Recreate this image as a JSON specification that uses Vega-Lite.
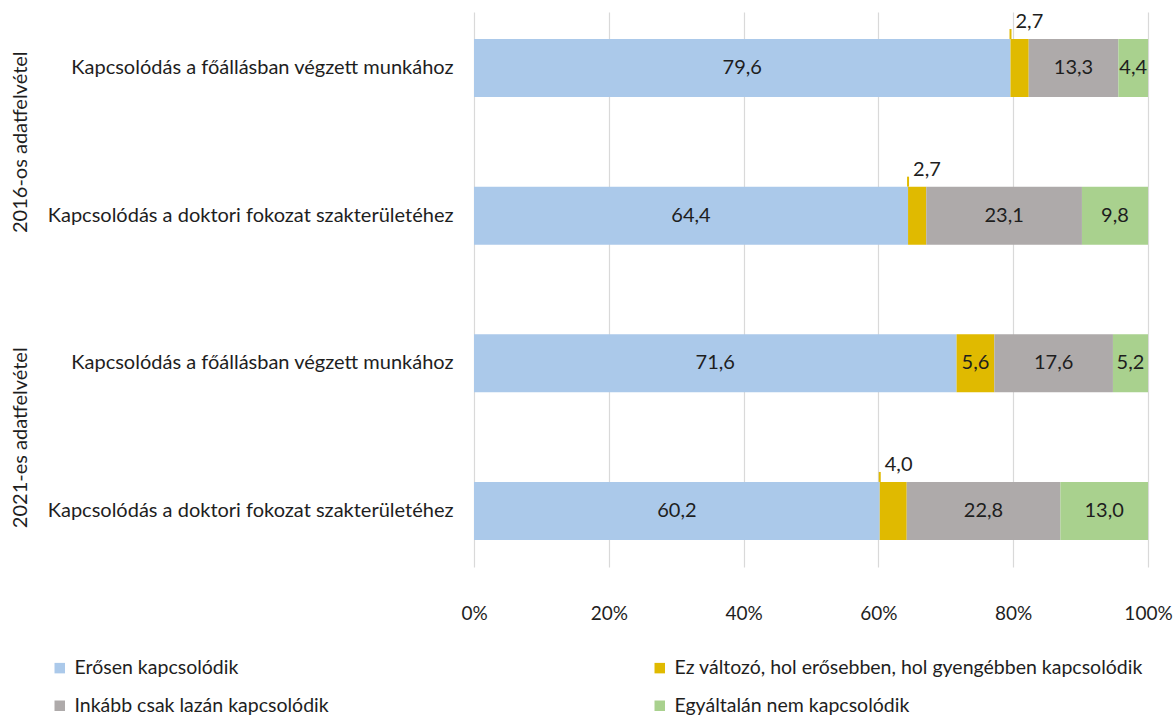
{
  "$schema": "https://vega.github.io/schema/vega-lite/v6.json",
  "autosize": {"type": "none"},
  "padding": {"left": 474, "top": 12, "right": 25, "bottom": 152},
  "width": 674,
  "height": 555,
  "config": {
    "font": "Lato",
    "view": {"stroke": null},
    "locale": {"number": {"decimal": ",", "thousands": " ", "grouping": [3], "currency": ["", ""]}},
    "text": {"font": "Lato", "fontSize": 20, "color": "#1e1e1e"}
  },
  "data": {
    "values": [
      {"group": "2016-os adatfelvétel", "row": "r1", "label": "Kapcsolódás a főállásban végzett munkához", "cat": "Erősen kapcsolódik", "ord": 1, "value": 79.6},
      {"group": "2016-os adatfelvétel", "row": "r1", "label": "Kapcsolódás a főállásban végzett munkához", "cat": "Ez változó, hol erősebben, hol gyengébben kapcsolódik", "ord": 2, "value": 2.7},
      {"group": "2016-os adatfelvétel", "row": "r1", "label": "Kapcsolódás a főállásban végzett munkához", "cat": "Inkább csak lazán kapcsolódik", "ord": 3, "value": 13.3},
      {"group": "2016-os adatfelvétel", "row": "r1", "label": "Kapcsolódás a főállásban végzett munkához", "cat": "Egyáltalán nem kapcsolódik", "ord": 4, "value": 4.4},
      {"group": "2016-os adatfelvétel", "row": "r2", "label": "Kapcsolódás a doktori fokozat szakterületéhez", "cat": "Erősen kapcsolódik", "ord": 1, "value": 64.4},
      {"group": "2016-os adatfelvétel", "row": "r2", "label": "Kapcsolódás a doktori fokozat szakterületéhez", "cat": "Ez változó, hol erősebben, hol gyengébben kapcsolódik", "ord": 2, "value": 2.7},
      {"group": "2016-os adatfelvétel", "row": "r2", "label": "Kapcsolódás a doktori fokozat szakterületéhez", "cat": "Inkább csak lazán kapcsolódik", "ord": 3, "value": 23.1},
      {"group": "2016-os adatfelvétel", "row": "r2", "label": "Kapcsolódás a doktori fokozat szakterületéhez", "cat": "Egyáltalán nem kapcsolódik", "ord": 4, "value": 9.8},
      {"group": "2021-es adatfelvétel", "row": "r3", "label": "Kapcsolódás a főállásban végzett munkához", "cat": "Erősen kapcsolódik", "ord": 1, "value": 71.6},
      {"group": "2021-es adatfelvétel", "row": "r3", "label": "Kapcsolódás a főállásban végzett munkához", "cat": "Ez változó, hol erősebben, hol gyengébben kapcsolódik", "ord": 2, "value": 5.6},
      {"group": "2021-es adatfelvétel", "row": "r3", "label": "Kapcsolódás a főállásban végzett munkához", "cat": "Inkább csak lazán kapcsolódik", "ord": 3, "value": 17.6},
      {"group": "2021-es adatfelvétel", "row": "r3", "label": "Kapcsolódás a főállásban végzett munkához", "cat": "Egyáltalán nem kapcsolódik", "ord": 4, "value": 5.2},
      {"group": "2021-es adatfelvétel", "row": "r4", "label": "Kapcsolódás a doktori fokozat szakterületéhez", "cat": "Erősen kapcsolódik", "ord": 1, "value": 60.2},
      {"group": "2021-es adatfelvétel", "row": "r4", "label": "Kapcsolódás a doktori fokozat szakterületéhez", "cat": "Ez változó, hol erősebben, hol gyengébben kapcsolódik", "ord": 2, "value": 4.0},
      {"group": "2021-es adatfelvétel", "row": "r4", "label": "Kapcsolódás a doktori fokozat szakterületéhez", "cat": "Inkább csak lazán kapcsolódik", "ord": 3, "value": 22.8},
      {"group": "2021-es adatfelvétel", "row": "r4", "label": "Kapcsolódás a doktori fokozat szakterületéhez", "cat": "Egyáltalán nem kapcsolódik", "ord": 4, "value": 13.0}
    ]
  },
  "resolve": {"scale": {"y": "independent"}, "axis": {"y": "independent"}},
  "layer": [
    {
      "layer": [
        {
          "mark": {"type": "bar"},
          "encoding": {
            "y": {
              "field": "row", "type": "nominal", "sort": ["r1", "r2", "r3", "r4"],
              "scale": {"paddingInner": 0.607, "paddingOuter": 0.183},
              "axis": {
                "title": null, "domain": false, "ticks": false, "labelPadding": 21, "orient": "left",
                "labelFontSize": 20, "labelColor": "#1e1e1e", "labelFont": "Lato", "labelLimit": 0,
                "labelExpr": "datum.value == 'r1' || datum.value == 'r3' ? 'Kapcsolódás a főállásban végzett munkához' : 'Kapcsolódás a doktori fokozat szakterületéhez'"
              }
            },
            "x": {
              "field": "value", "type": "quantitative", "stack": "zero",
              "scale": {"domain": [0, 100], "nice": false},
              "axis": {
                "title": null, "values": [0, 20, 40, 60, 80, 100], "labelExpr": "datum.value + '%'",
                "domain": false, "ticks": false, "grid": true, "gridColor": "#d9d9d9", "gridWidth": 1.2,
                "labelFlush": false,
                "labelFontSize": 19, "labelColor": "#1e1e1e", "labelFont": "Lato", "offset": 18, "labelPadding": 19
              }
            },
            "order": {"field": "ord", "type": "quantitative"},
            "color": {
              "field": "cat", "type": "nominal",
              "scale": {
                "domain": ["Erősen kapcsolódik", "Ez változó, hol erősebben, hol gyengébben kapcsolódik", "Inkább csak lazán kapcsolódik", "Egyáltalán nem kapcsolódik"],
                "range": ["#abc9ea", "#e0ba00", "#aeaaaa", "#a9d18e"]
              },
              "legend": {
                "title": null, "orient": "none", "legendX": -424, "legendY": 646, "columns": 2,
                "direction": "horizontal", "columnPadding": 321, "rowPadding": 17,
                "symbolType": "square", "symbolSize": 110, "symbolStrokeWidth": 0, "symbolOpacity": 1,
                "labelFontSize": 19.5, "labelFont": "Lato", "labelColor": "#1e1e1e", "labelLimit": 0, "labelOffset": 5
              }
            }
          }
        },
        {
          "mark": {"type": "text", "align": "center", "baseline": "middle"},
          "encoding": {
            "y": {"field": "row", "type": "nominal", "sort": ["r1", "r2", "r3", "r4"]},
            "x": {"field": "value", "type": "quantitative", "stack": "zero", "bandPosition": 0.5},
            "order": {"field": "ord", "type": "quantitative"},
            "text": {
              "condition": {"test": "datum.ord == 2 && datum.value < 5", "value": ""},
              "field": "value", "type": "quantitative", "format": ".1f"
            }
          }
        },
        {
          "transform": [
            {"stack": "value", "groupby": ["row"], "sort": [{"field": "ord", "order": "ascending"}], "as": ["s0", "s1"]},
            {"filter": "datum.ord == 2 && datum.value < 5"}
          ],
          "layer": [
            {
              "mark": {"type": "text", "align": "left", "baseline": "middle", "dx": 5, "dy": -17},
              "encoding": {
                "y": {"field": "row", "type": "nominal", "sort": ["r1", "r2", "r3", "r4"], "bandPosition": 0},
                "x": {"field": "s0", "type": "quantitative"},
                "text": {"field": "value", "type": "quantitative", "format": ".1f"}
              }
            },
            {
              "mark": {"type": "point", "shape": "M0,0L0,-2", "filled": false, "size": 100, "stroke": "#e0ba00", "strokeWidth": 2, "opacity": 1},
              "encoding": {
                "y": {"field": "row", "type": "nominal", "sort": ["r1", "r2", "r3", "r4"], "bandPosition": 0},
                "x": {"field": "s0", "type": "quantitative"}
              }
            }
          ]
        }
      ]
    },
    {
      "transform": [{"filter": "datum.ord == 1"}],
      "mark": {"type": "point", "opacity": 0},
      "encoding": {
        "x": {"datum": 0, "type": "quantitative"},
        "y": {
          "field": "group", "type": "nominal",
          "scale": {"type": "point", "padding": 0.439},
          "axis": {
            "orient": "left",
            "title": null, "domain": false, "ticks": false, "labelAngle": -90, "labelAlign": "center",
            "labelBaseline": "bottom", "labelPadding": 444, "labelFontSize": 20, "labelColor": "#1e1e1e",
            "labelFont": "Lato", "labelLimit": 0
          }
        }
      }
    }
  ]
}
